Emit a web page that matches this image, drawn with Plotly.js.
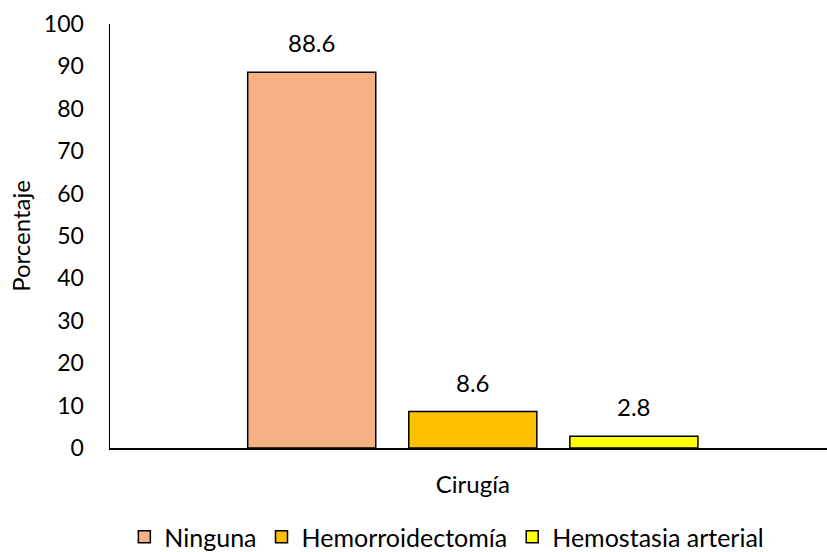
<!DOCTYPE html>
<html><head><meta charset="utf-8">
<script src="https://cdn.plot.ly/plotly-3.0.1.min.js"></script>
<style>body{margin:0;background:#fff}</style></head>
<body><div id="chart" style="width:827px;height:552px"></div>
<script>
const category = ["Cirugía"];
const seriesNames = ["Ninguna", "Hemorroidectomía", "Hemostasia arterial"];
const seriesValues = [88.6, 8.6, 2.8];
const seriesColors = ["#F4B183", "#FFC000", "#FFFF00"];

const FONT = "Lato, 'Open Sans', sans-serif";
const traces = seriesNames.map((n, i) => ({
  type: "bar", name: n, x: category, y: [seriesValues[i]],
  marker: {color: seriesColors[i], line: {color: "#000", width: 1.5}},
  hoverinfo: "skip"
}));

const bargap = 0.326, n = seriesNames.length;
const slot = (1 - bargap) / n;
const annotations = seriesValues.map((v, i) => ({
  x: (i - (n - 1) / 2) * slot, y: v, xref: "x", yref: "y",
  text: v.toFixed(1), showarrow: false, yanchor: "bottom", yshift: 13,
  font: {family: FONT, size: 24, color: "#000"}
}));

const layout = {
  width: 827, height: 552,
  margin: {l: 110, r: 0, t: 24, b: 104},
  paper_bgcolor: "#fff", plot_bgcolor: "#fff",
  barmode: "group", bargap: bargap, bargroupgap: 0.205,
  font: {family: FONT, size: 24, color: "#000"},
  xaxis: {
    showline: true, linecolor: "#000", linewidth: 1.5, ticks: "",
    showgrid: false, ticklabelstandoff: 15, tickfont: {size: 24},
    range: [-0.506, 0.494], automargin: false
  },
  yaxis: {
    range: [0, 100], dtick: 10, showgrid: false, zeroline: false,
    showline: true, linecolor: "#000", linewidth: 1.5, ticks: "",
    ticklabelstandoff: 20, tickfont: {size: 23}, automargin: false,
    title: {text: "Porcentaje", font: {size: 24}, standoff: 6}
  },
  legend: {
    orientation: "h", x: 0.02, xanchor: "left",
    yref: "container", y: 1 - 537 / 552, yanchor: "middle",
    font: {size: 25}, itemwidth: 30
  },
  annotations: annotations,
  showlegend: true
};
Plotly.newPlot("chart", traces, layout, {displayModeBar: false, staticPlot: true});
</script></body></html>
